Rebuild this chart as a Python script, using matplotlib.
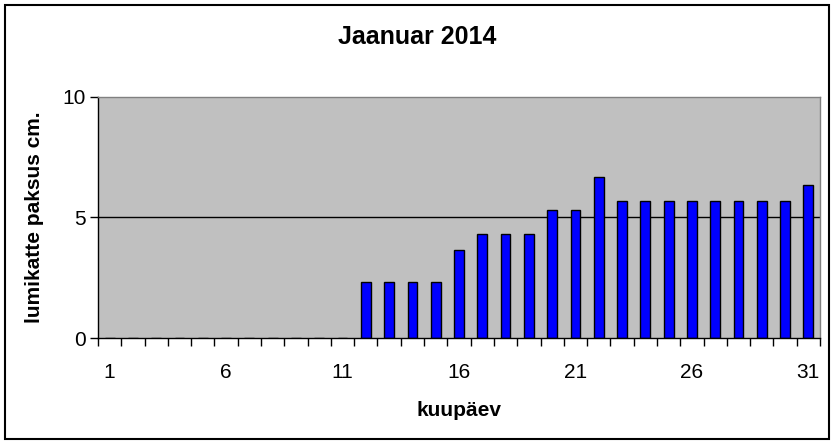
import matplotlib.pyplot as plt
from matplotlib.patches import Rectangle

plt.rcParams['font.family'] = ['Liberation Sans', 'DejaVu Sans']

# data
days = list(range(1, 32))
snow_cm = [0, 0, 0, 0, 0, 0, 0, 0, 0, 0, 0,
           2.33, 2.33, 2.33, 2.33, 3.67, 4.33, 4.33, 4.33, 5.33, 5.33,
           6.67, 5.67, 5.67, 5.67, 5.67, 5.67, 5.67, 5.67, 5.67, 6.33]
day_labels = [1, 6, 11, 16, 21, 26, 31]
y_ticks = [0, 5, 10]

W, H = 834, 444
fig = plt.figure(figsize=(W / 100, H / 100), dpi=100)
ax = fig.add_axes([98 / W, 1 - 338 / H, (820 - 98) / W, (338 - 97) / H])
ax.set_facecolor('#c0c0c0')

ax.axhline(5, color='black', lw=1, zorder=1)
ax.bar(days, snow_cm, width=0.42, color='#0000ff', edgecolor='black', lw=1, zorder=2)

ax.set_xlim(0.5, 31.5)
ax.set_ylim(0, 10)

# category ticks between bars, labels every 5 days
ax.set_xticks(day_labels)
ax.set_xticklabels([str(d) for d in day_labels], fontsize=15)
ax.set_xticks([d + 0.5 for d in range(0, 32)], minor=True)
ax.tick_params(axis='x', which='major', length=0, pad=18)
ax.tick_params(axis='x', which='minor', length=6, width=1, direction='out')

ax.set_yticks(y_ticks)
ax.set_yticklabels([str(v) for v in y_ticks], fontsize=15)
ax.tick_params(axis='y', length=6, width=1, direction='out', pad=3)

for s in ['left', 'bottom']:
    ax.spines[s].set_color('black')
    ax.spines[s].set_linewidth(1)
for s in ['top', 'right']:
    ax.spines[s].set_color('#808080')
    ax.spines[s].set_linewidth(1)

fig.text(0.5, 1 - 37 / H, 'Jaanuar 2014', fontsize=18, fontweight='bold',
         ha='center', va='center')
fig.text(459 / W, 1 - 410 / H, 'kuupäev', fontsize=15, fontweight='bold',
         ha='center', va='center')
fig.text(35 / W, 1 - 217 / H, 'lumikatte paksus cm.', fontsize=15, fontweight='bold',
         ha='center', va='center', rotation=90)

# outer chart border
fig.patches.append(Rectangle((5 / W, 5 / H), (829 - 5) / W, (439 - 5) / H,
                             transform=fig.transFigure, fill=False,
                             edgecolor='black', lw=1.5))

fig.savefig('out.png', dpi=100)
